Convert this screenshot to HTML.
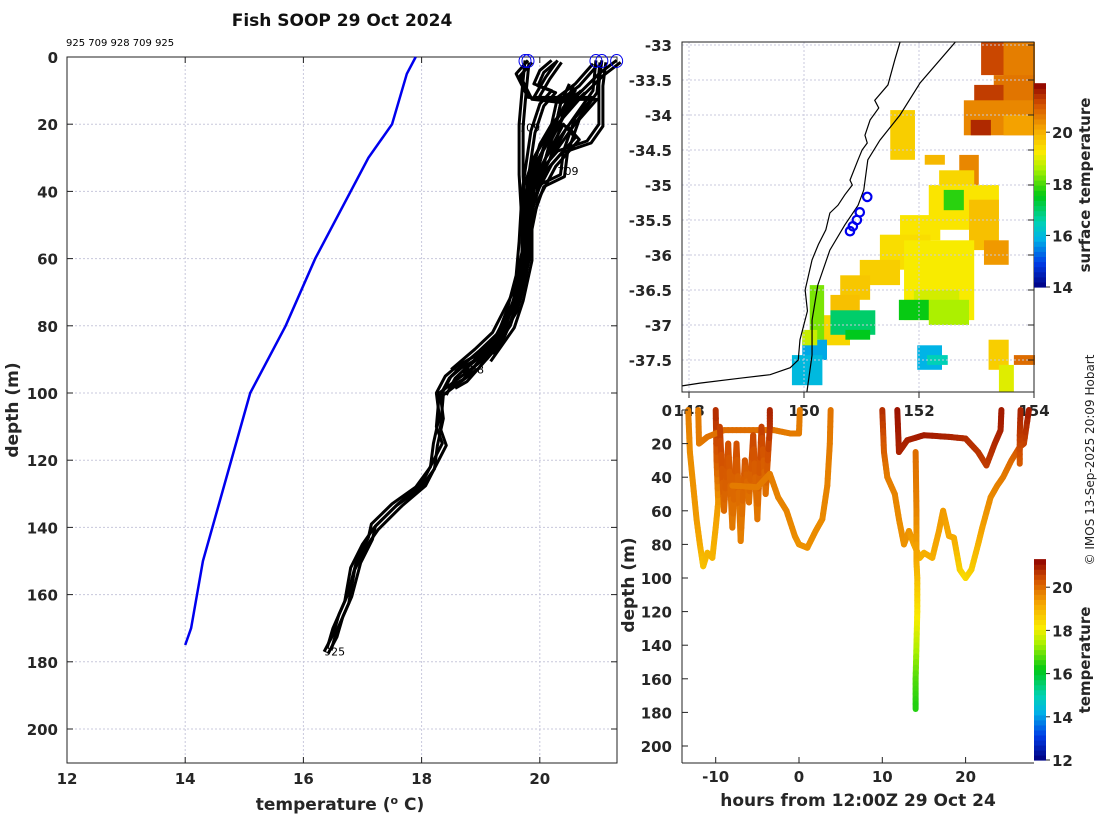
<!DOCTYPE html>
<html><head><meta charset="utf-8"><style>
body{margin:0;background:#fff;}
svg text{font-family:"DejaVu Sans","Liberation Sans",sans-serif;}
.tk{font-size:15px;font-weight:bold;fill:#262626;}
.lb{font-size:17px;font-weight:bold;fill:#262626;}
</style></head><body>
<svg id="fig" width="1100" height="820" viewBox="0 0 1100 820" xmlns="http://www.w3.org/2000/svg">
<rect width="1100" height="820" fill="#fff"/>
<text x="342" y="26" text-anchor="middle" style="font-size:17px;font-weight:bold" fill="#111">Fish SOOP 29 Oct 2024</text>
<text x="66" y="46" style="font-size:10px" fill="#000">925 709 928 709 925</text>
<g id="left"></g>
<g id="map"></g>
<g id="sect"></g>
<text transform="translate(1094,460) rotate(-90)" text-anchor="middle" style="font-size:12px" fill="#222">© IMOS 13-Sep-2025 20:09 Hobart</text>
</svg>
<script>
// ---------- data ----------
const leftXTicks=[12,14,16,18,20];
const leftYTicks=[0,20,40,60,80,100,120,140,160,180,200];
const climTemp=[17.9,17.75,17.5,17.1,16.2,15.7,15.1,14.7,14.3,14.1,14.0];
const climDepth=[0,5,20,30,60,80,100,125,150,170,175];
const prof1=[[21.3,1],[21.0,5],[20.6,12],[20.2,20],[19.9,30],[19.7,40],[19.65,55],[19.6,65],[19.45,75],[19.3,82],[19.0,88],[18.6,92],[18.4,95],[18.25,100],[18.3,107],[18.2,115],[18.15,122],[17.9,128],[17.5,133],[17.15,139],[17.1,143],[16.9,150],[16.75,160],[16.6,166],[16.5,172],[16.35,177]];
const prof2=[[20.95,1],[20.9,10],[20.5,20],[20.1,30],[19.8,40],[19.75,55],[19.7,65],[19.55,75],[19.2,85],[18.9,92],[18.6,96],[18.3,100],[18.25,110],[18.35,115],[18.0,127],[17.6,133],[17.2,140],[17.0,145],[16.8,152],[16.7,162],[16.5,170],[16.4,176]];
const prof3=[[19.75,1],[19.7,10],[19.65,20],[19.65,35],[19.7,50],[19.7,60],[19.6,70],[19.4,80],[19.2,86],[18.8,90],[18.5,95],[18.35,100]];
const prof4=[[19.8,1],[19.6,5],[19.8,12],[20.3,13],[20.6,10],[20.3,18],[19.9,30],[19.75,42],[19.7,58],[19.55,70],[19.2,82],[18.9,87],[18.5,93]];
const prof5=[[20.9,2],[20.6,8],[20.3,12],[20.2,20],[20.0,26],[19.85,35],[19.8,45],[19.75,60],[19.6,72],[19.4,80],[19.0,88],[18.7,94]];
const prof6=[[21.05,1],[21.0,8],[21.0,20],[20.8,25],[20.3,28],[20.0,34],[19.8,45],[19.8,60],[19.65,72],[19.5,80],[19.1,90]];
const prof7=[[20.3,1],[20.1,6],[19.9,12],[20.9,12],[20.6,18],[20.4,28],[20.35,35],[20.0,38],[19.8,48],[19.7,62],[19.5,76],[19.2,86],[18.8,92]];
const prof8=[[20.2,1],[20.0,4],[19.9,8],[20.2,10],[20.0,14],[19.85,22],[19.7,40],[19.75,55],[19.65,68],[19.45,78],[19.15,88]];
const prof9=[[20.7,10],[20.4,15],[20.1,25],[19.9,38],[19.75,50],[19.7,62],[19.55,74],[19.3,84],[19.0,90],[18.7,96],[18.5,98]];
const prof10=[[20.5,8],[20.35,14],[20.25,22],[20.1,30],[20.4,20],[20.6,24],[20.2,32],[19.9,42],[19.75,55]];
const surfTemps=[19.75,19.8,20.95,21.05,21.3];
const profLabels=[["709",19.65,21],["709",20.3,34],["928",18.7,93],["925",16.35,177]];

const mapLonTicks=[148,150,152,154];
const mapLatTicks=[-33,-33.5,-34,-34.5,-35,-35.5,-36,-36.5,-37,-37.5];
const coastLon=[151.67,151.58,151.46,151.23,151.3,151.15,151.06,151.1,151.01,150.94,150.8,150.84,150.71,150.59,150.45,150.38,150.25,150.14,150.02,150.06,149.93,149.9,149.76,149.41,148.89,148.19,147.88];
const coastLat=[-32.96,-33.21,-33.57,-33.79,-33.9,-34.07,-34.29,-34.4,-34.5,-34.64,-34.93,-35.0,-35.14,-35.29,-35.4,-35.64,-35.85,-36.07,-36.5,-36.8,-37.21,-37.5,-37.61,-37.71,-37.76,-37.83,-37.87];
const shelfLon=[152.63,152.02,151.67,151.32,151.11,151.04,150.94,150.71,150.45,150.24,150.14,150.14,150.05];
const shelfLat=[-32.96,-33.54,-34.0,-34.36,-34.64,-35.07,-35.29,-35.57,-35.93,-36.43,-36.93,-37.43,-37.96];
const shipLon=[151.1,150.97,150.92,150.85,150.8];
const shipLat=[-35.17,-35.39,-35.5,-35.59,-35.66];
// SST patches: [lon0, lat0, lon1, lat1, temp]
const sstPatches=[[153.08,-32.96,154.05,-33.43,21.2],[153.47,-32.96,154.05,-33.79,20.6],[153.3,-33.43,154.05,-33.93,20.7],[152.96,-33.57,153.47,-33.93,21.3],[152.78,-33.79,154.05,-34.29,20.5],[153.47,-34.0,154.05,-34.29,20.2],[152.9,-34.07,153.25,-34.29,21.5],[151.5,-33.93,151.93,-34.64,19.6],[152.1,-34.57,152.45,-34.71,19.9],[152.7,-34.57,153.04,-35.0,20.5],[152.35,-34.79,152.96,-35.21,19.5],[152.17,-35.0,153.39,-35.64,19.3],[152.43,-35.07,152.78,-35.36,17.8],[152.87,-35.21,153.39,-35.93,19.8],[153.13,-35.79,153.56,-36.14,20.3],[151.67,-35.43,152.37,-35.79,19.3],[151.32,-35.71,152.2,-36.21,19.4],[150.97,-36.07,151.67,-36.43,19.6],[150.63,-36.29,151.15,-36.64,19.7],[150.46,-36.57,150.97,-36.93,19.8],[150.28,-36.86,150.8,-37.29,19.5],[151.74,-35.79,152.96,-36.93,19.2],[151.91,-36.5,152.7,-36.86,18.9],[152.17,-36.64,152.87,-37.0,18.6],[151.65,-36.64,152.17,-36.93,17.6],[150.46,-36.79,151.24,-37.14,17.0],[150.72,-37.07,151.15,-37.21,17.5],[150.1,-36.43,150.35,-37.21,18.3],[149.97,-37.21,150.4,-37.5,15.8],[149.79,-37.43,150.32,-37.86,16.0],[149.97,-37.07,150.23,-37.29,18.8],[151.97,-37.29,152.4,-37.64,15.9],[152.14,-37.43,152.5,-37.57,16.5],[153.21,-37.21,153.56,-37.64,19.6],[153.39,-37.57,153.65,-38.07,19.0],[153.65,-37.43,154.05,-37.57,20.8],[153.21,-38.21,154.05,-38.5,16.8],[153.3,-38.5,153.65,-38.79,17.2],[153.65,-38.64,154.05,-38.96,16.6],[147.9,-38.79,148.54,-38.96,14.3],[148.89,-38.86,149.24,-38.96,14.8],[150.95,-38.36,151.13,-38.46,15.4],[151.93,-38.21,152.2,-38.36,16.2]];
const mapCbTicks=[14,16,18,20];

const sectXTicks=[-10,0,10,20];
const sectYTicks=[0,20,40,60,80,100,120,140,160,180,200];
const sectCbTicks=[12,14,16,18,20];
const track1=[[-13.3,0,19.8],[-13.1,25,19.6],[-12.7,45,19.5],[-12.3,65,19.4],[-11.9,80,19.2],[-11.5,93,18.8],[-11,85,19.0],[-10.4,88,19.0],[-10,70,19.2],[-9.7,55,19.4],[-9.9,30,20.2],[-10,0,20.8]];
const track2=[[-12.1,0,19.8],[-12,20,19.8],[-11,16,19.9],[-9,12,20.0],[-6,12,20.0],[-3,12,19.9],[-1,14,19.8],[0,14,19.8],[0.1,0,19.8]];
const track3=[[-9.5,10,20.6],[-9,60,20.0],[-8.5,20,20.4],[-8,70,19.8],[-7.5,20,20.4],[-7,78,19.7],[-6.5,30,20.3],[-6,55,19.9],[-5.5,15,20.5],[-5,65,19.8],[-4.5,10,20.6],[-4,50,19.9],[-3.5,10,20.7],[-3.5,0,20.9]];
const track4=[[-8,45,19.8],[-5,46,19.8],[-3.5,38,19.8],[-2.5,52,19.7],[-1.5,60,19.7],[-0.5,75,19.6],[0,80,19.5],[1,82,19.5],[2,72,19.6],[2.8,65,19.6],[3.4,45,19.7],[3.7,20,19.8],[3.8,0,19.9]];
const track5=[[10,0,20.8],[10.2,25,20.2],[10.6,40,19.8],[11.5,50,19.7],[12,65,19.6],[12.6,80,19.5],[13.2,72,19.5],[13.8,80,19.3],[14.5,88,19.0],[15,85,19.1],[16,88,19.1],[16.8,72,19.3],[17.3,60,19.4],[18,75,19.2],[18.6,76,19.2],[19.3,95,18.6],[20,100,18.4],[20.7,95,18.6],[21.5,80,19.0],[22,70,19.3],[23,52,19.6],[23.8,45,19.7],[24.5,40,19.8],[25.5,30,20.0],[26.5,22,20.3],[27,20,20.5],[27.6,0,21.0]];
const track6=[[11.8,0,21.1],[12,25,20.9],[13,18,20.9],[15,15,21.0],[18,16,20.9],[20,17,20.8],[21.5,25,20.7],[22.5,33,20.6],[23.5,20,20.8],[24.2,12,20.9],[24.3,0,21.0]];
const track7=[[14,25,20.0],[14.1,60,19.7],[14.1,90,19.2],[14.2,100,18.9],[14.2,120,18.3],[14.1,140,17.6],[14.0,160,16.8],[14,178,16.4]];
const track8=[[26.5,32,20.2],[26.5,15,20.6],[26.6,0,20.9]];

// ---------- helpers ----------
const NS='http://www.w3.org/2000/svg';
function mk(parent,tag,attrs){const e=document.createElementNS(NS,tag);for(const k in attrs)e.setAttribute(k,attrs[k]);parent.appendChild(e);return e;}
const cmapStops=[[0,0,0,128],[0.12,0,60,230],[0.24,0,180,230],[0.32,0,210,180],[0.45,0,200,20],[0.58,170,240,0],[0.66,250,235,0],[0.78,245,165,0],[0.9,210,80,0],[1,140,0,0]];
function jet(v){v=Math.max(0,Math.min(1,v));for(let i=1;i<cmapStops.length;i++){const a=cmapStops[i-1],b=cmapStops[i];if(v<=b[0]){const f=(v-a[0])/(b[0]-a[0]);return `rgb(${Math.round(a[1]+(b[1]-a[1])*f)},${Math.round(a[2]+(b[2]-a[2])*f)},${Math.round(a[3]+(b[3]-a[3])*f)})`;}}return 'rgb(140,0,0)';}
function txt(p,x,y,s,cls,anchor,name){const t=mk(p,'text',{x:x,y:y,class:cls,'text-anchor':anchor||'middle'});t.textContent=s;return t;}

// ---------- left profile plot ----------
const L=document.getElementById('left');
const lx=t=>67+(t-12)*59.1, ly=d=>57+d*3.36;
leftXTicks.forEach(t=>{if(t>12){const g=mk(L,'line',{x1:lx(t),x2:lx(t),y1:57,y2:763,stroke:'#c8c8dc','stroke-dasharray':'2,2','stroke-width':1});}
 txt(L,lx(t),784,String(t),'tk','middle','x-tick-label');
 mk(L,'line',{x1:lx(t),x2:lx(t),y1:763,y2:757,stroke:'#222'});mk(L,'line',{x1:lx(t),x2:lx(t),y1:57,y2:63,stroke:'#222'});});
leftYTicks.forEach(d=>{if(d>0){const g=mk(L,'line',{x1:67,x2:617,y1:ly(d),y2:ly(d),stroke:'#c8c8dc','stroke-dasharray':'2,2','stroke-width':1});}
 txt(L,58,ly(d)+6,String(d),'tk','end','y-tick-label');
 mk(L,'line',{x1:67,x2:73,y1:ly(d),y2:ly(d),stroke:'#222'});mk(L,'line',{x1:617,x2:611,y1:ly(d),y2:ly(d),stroke:'#222'});});
const lbox=mk(L,'rect',{x:67,y:57,width:550,height:706,fill:'none',stroke:'#222','stroke-width':1});

const clim=mk(L,'polyline',{points:climTemp.map((t,i)=>lx(t)+','+ly(climDepth[i])).join(' '),fill:'none',stroke:'#0000ee','stroke-width':2.5});

[prof1,prof2,prof3,prof4,prof5,prof6,prof7,prof8,prof9,prof10].forEach((p,i)=>{
 const pl=mk(L,'polyline',{points:p.map(q=>lx(q[0])+','+ly(q[1])).join(' '),fill:'none',stroke:'#000','stroke-width':3,'stroke-linejoin':'round'});
 
 const pl2=mk(L,'polyline',{points:p.map(q=>(lx(q[0])+4)+','+(ly(q[1])+2)).join(' '),fill:'none',stroke:'#000','stroke-width':3,'stroke-linejoin':'round'});
 });
surfTemps.forEach(t=>{const c=mk(L,'ellipse',{cx:lx(t),cy:61,rx:6,ry:6.5,fill:'none',stroke:'#0000ee','stroke-width':1});});
profLabels.forEach(l=>{const t=txt(L,lx(l[1]),ly(l[2])+4,l[0],'','start','profile-label');t.setAttribute('style','font-size:11px');});
txt(L,340,810,'','lb','middle','x-axis-title').innerHTML='temperature (<tspan dy="-6" style="font-size:11px">o</tspan><tspan dy="6"> C)</tspan>';
const yt=txt(L,0,0,'depth (m)','lb','middle','y-axis-title');yt.setAttribute('transform','translate(18,410) rotate(-90)');

// ---------- map ----------
const M=document.getElementById('map');
const mx=lo=>689+(lo-148)*57.5, my=la=>45+(-33-la)*70;
const clip=mk(M,'clipPath',{id:'mclip'});mk(clip,'rect',{x:682,y:42,width:353,height:350});
const mg=mk(M,'g',{'clip-path':'url(#mclip)'});
const mapCol=t=>jet((t-14)/(21.9-14));
sstPatches.forEach(p=>{const r=mk(mg,'rect',{x:mx(p[0]),y:my(p[1]),width:mx(p[2])-mx(p[0]),height:my(p[3])-my(p[1]),fill:mapCol(p[4])});});
mapLonTicks.forEach(lo=>{mk(mg,'line',{x1:mx(lo),x2:mx(lo),y1:42,y2:392,stroke:'#c8c8dc','stroke-dasharray':'2,2'});txt(M,mx(lo),416,String(lo),'tk','middle','lon-tick-label');mk(M,'line',{x1:mx(lo),x2:mx(lo),y1:392,y2:398,stroke:'#222'});});
mapLatTicks.forEach(la=>{mk(mg,'line',{x1:682,x2:1034,y1:my(la),y2:my(la),stroke:'#c8c8dc','stroke-dasharray':'2,2'});txt(M,672,my(la)+6,String(la),'tk','end','lat-tick-label');mk(M,'line',{x1:1034,x2:1028,y1:my(la),y2:my(la),stroke:'#222'});});
const coast=mk(mg,'polyline',{points:coastLon.map((lo,i)=>mx(lo)+','+my(coastLat[i])).join(' '),fill:'none',stroke:'#000','stroke-width':1.2});

const shelf=mk(mg,'polyline',{points:shelfLon.map((lo,i)=>mx(lo)+','+my(shelfLat[i])).join(' '),fill:'none',stroke:'#000','stroke-width':1.2});

shipLon.forEach((lo,i)=>{const c=mk(mg,'circle',{cx:mx(lo),cy:my(shipLat[i]),r:4.2,fill:'none',stroke:'#0000ee','stroke-width':2.2});});
const mbox=mk(M,'rect',{x:682,y:42,width:352,height:350,fill:'none',stroke:'#222'});

// map colorbar
const cb1=mk(M,'g',{});
const cby=t=>287-(t-14)*25.8;
for(let i=0;i<40;i++){const t0=14+i*(7.9/40);mk(cb1,'rect',{x:1034,y:cby(t0+7.9/40),width:12,height:25.8*7.9/40+0.6,fill:mapCol(t0+0.1)});}
mapCbTicks.forEach(t=>{txt(M,1052,cby(t)+6,String(t),'tk','start','sst-colorbar-tick');mk(M,'line',{x1:1046,x2:1050,y1:cby(t),y2:cby(t),stroke:'#222'});});
const st=txt(M,0,0,'surface temperature','tk','middle','sst-colorbar-title');st.setAttribute('transform','translate(1090,185) rotate(-90)');

// ---------- section ----------
const S=document.getElementById('sect');
const sx=h=>799+h*8.33, sy=d=>410+d*1.68;
const secCol=t=>jet((t-12)/(21.3-12));
[track1,track2,track3,track4,track5,track6,track7,track8].forEach((tr,k)=>{
 const g=mk(S,'g',{});
 for(let i=0;i<tr.length-1;i++){const a=tr[i],b=tr[i+1];const n=6;for(let j=0;j<n;j++){const f0=j/n,f1=(j+1)/n;
  mk(g,'line',{x1:sx(a[0]+(b[0]-a[0])*f0),y1:sy(a[1]+(b[1]-a[1])*f0),x2:sx(a[0]+(b[0]-a[0])*f1),y2:sy(a[1]+(b[1]-a[1])*f1),stroke:secCol(a[2]+(b[2]-a[2])*(f0+f1)/2),'stroke-width':6,'stroke-linecap':'round'});}}});
mk(S,'line',{x1:682,x2:1034,y1:763,y2:763,stroke:'#222'});mk(S,'line',{x1:682,x2:682,y1:410,y2:763,stroke:'#222'});
sectXTicks.forEach(h=>{txt(S,sx(h),782,String(h),'tk','middle','hours-tick-label');mk(S,'line',{x1:sx(h),x2:sx(h),y1:763,y2:757,stroke:'#222'});});
sectYTicks.forEach(d=>{txt(S,672,sy(d)+6,String(d),'tk','end','section-depth-tick');mk(S,'line',{x1:682,x2:688,y1:sy(d),y2:sy(d),stroke:'#222'});});
txt(S,858,806,'hours from 12:00Z 29 Oct 24','lb','middle','section-x-title');
const sy2=txt(S,0,0,'depth (m)','lb','middle','section-y-title');sy2.setAttribute('transform','translate(634,585) rotate(-90)');
const cb2=mk(S,'g',{});
const cby2=t=>760-(t-12)*21.6;
for(let i=0;i<40;i++){const t0=12+i*(9.3/40);mk(cb2,'rect',{x:1034,y:cby2(t0+9.3/40),width:12,height:21.6*9.3/40+0.6,fill:secCol(t0+0.1)});}
sectCbTicks.forEach(t=>{txt(S,1052,cby2(t)+6,String(t),'tk','start','temp-colorbar-tick');mk(S,'line',{x1:1046,x2:1050,y1:cby2(t),y2:cby2(t),stroke:'#222'});});
const ct=txt(S,0,0,'temperature','tk','middle','temp-colorbar-title');ct.setAttribute('transform','translate(1090,660) rotate(-90)');
</script>
</body></html>
